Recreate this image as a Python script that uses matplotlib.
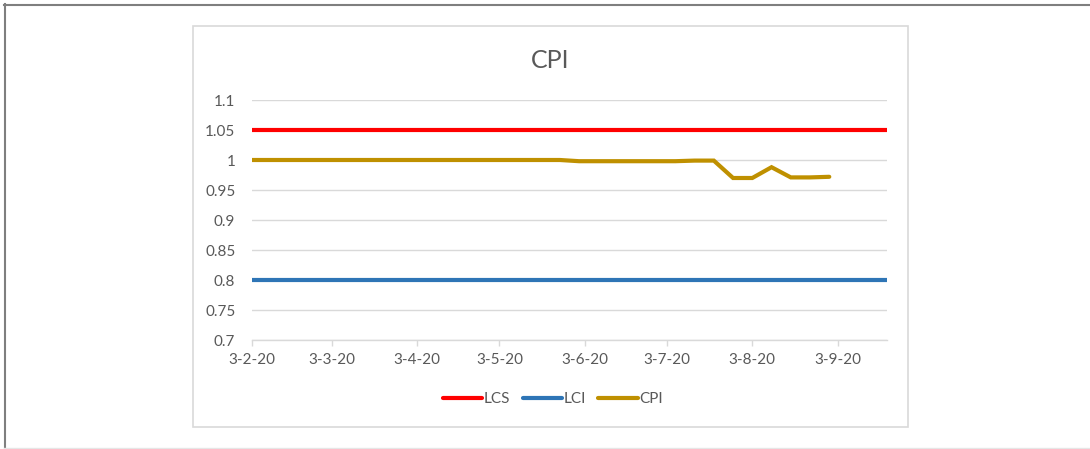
import pandas as pd
import matplotlib
matplotlib.use('Agg')
import matplotlib.pyplot as plt
from matplotlib.patches import Rectangle
from matplotlib.lines import Line2D

plt.rcParams['font.family'] = ['Lato', 'DejaVu Sans']

# weekly dates (day-month style labels in the original)
dates = pd.to_datetime([
    '2020-02-03', '2020-02-10', '2020-02-17', '2020-02-24', '2020-03-02', '2020-03-09',
    '2020-03-16', '2020-03-23', '2020-03-30', '2020-04-06', '2020-04-13', '2020-04-20',
    '2020-04-27', '2020-05-04', '2020-05-11', '2020-05-18', '2020-05-25', '2020-06-01',
    '2020-06-08', '2020-06-15', '2020-06-22', '2020-06-29', '2020-07-06', '2020-07-13',
    '2020-07-20', '2020-07-27', '2020-08-03', '2020-08-10', '2020-08-17', '2020-08-24',
    '2020-08-31', '2020-09-07', '2020-09-14', '2020-09-21'])

lcs = [1.05, 1.05, 1.05, 1.05, 1.05, 1.05, 1.05, 1.05, 1.05, 1.05, 1.05, 1.05,
       1.05, 1.05, 1.05, 1.05, 1.05, 1.05, 1.05, 1.05, 1.05, 1.05, 1.05, 1.05,
       1.05, 1.05, 1.05, 1.05, 1.05, 1.05, 1.05, 1.05, 1.05, 1.05]
lci = [0.8, 0.8, 0.8, 0.8, 0.8, 0.8, 0.8, 0.8, 0.8, 0.8, 0.8, 0.8,
       0.8, 0.8, 0.8, 0.8, 0.8, 0.8, 0.8, 0.8, 0.8, 0.8, 0.8, 0.8,
       0.8, 0.8, 0.8, 0.8, 0.8, 0.8, 0.8, 0.8, 0.8, 0.8]
cpi = [1.0, 1.0, 1.0, 1.0, 1.0, 1.0, 1.0, 1.0, 1.0, 1.0, 1.0, 1.0,
       1.0, 1.0, 1.0, 1.0, 1.0, 0.998, 0.998, 0.998, 0.998, 0.998, 0.998, 0.999,
       0.999, 0.970, 0.970, 0.988, 0.971, 0.971, 0.972]

tick_dates = pd.to_datetime(['2020-02-03', '2020-03-03', '2020-04-03', '2020-05-03',
                             '2020-06-03', '2020-07-03', '2020-08-03', '2020-09-03'])
tick_labels = ['3-2-20', '3-3-20', '3-4-20', '3-5-20', '3-6-20', '3-7-20', '3-8-20', '3-9-20']
y_ticks = [0.7, 0.75, 0.8, 0.85, 0.9, 0.95, 1.0, 1.05, 1.1]
y_labels = ['0.7', '0.75', '0.8', '0.85', '0.9', '0.95', '1', '1.05', '1.1']

text_color = '#595959'
grid_color = '#d9d9d9'

fig = plt.figure(figsize=(10.9, 4.49), dpi=100)
ax = fig.add_axes([252 / 1090, 1 - 340 / 449, 635 / 1090, 240 / 449])

lw = 3
ax.plot(dates, lcs, color='#ff0000', lw=lw, solid_capstyle='round', label='LCS', zorder=3)
ax.plot(dates, lci, color='#2e75b6', lw=lw, solid_capstyle='round', label='LCI', zorder=3)
ax.plot(dates[:len(cpi)], cpi, color='#bf9000', lw=lw, solid_capstyle='round',
        solid_joinstyle='miter', label='CPI', zorder=3)

ax.set_xlim(dates[0], dates[-1])
ax.set_ylim(0.7, 1.1)
ax.set_yticks(y_ticks)
ax.set_yticklabels(y_labels)
ax.set_xticks(tick_dates)
ax.set_xticklabels(tick_labels)
ax.yaxis.grid(True, color=grid_color, lw=1)
ax.set_axisbelow(True)
for s in ['top', 'right', 'left']:
    ax.spines[s].set_visible(False)
ax.spines['bottom'].set_color(grid_color)
ax.spines['bottom'].set_linewidth(1)
ax.tick_params(axis='y', length=0, pad=12, labelsize=11, labelcolor=text_color)
ax.tick_params(axis='x', length=4, width=1, color=grid_color, pad=5.5, labelsize=11,
               labelcolor=text_color)

fig.text(550 / 1090, 1 - 60 / 449, 'CPI', ha='center', va='center', fontsize=18,
         color=text_color)

leg = fig.legend(loc='center', bbox_to_anchor=(553 / 1090, 1 - 399 / 449), ncol=3,
                 frameon=False, handlelength=2.6, handletextpad=0.1, columnspacing=0.8,
                 fontsize=11)
for t in leg.get_texts():
    t.set_color(text_color)

# chart area box and outer frame
fig.add_artist(Rectangle((193 / 1090, 1 - 427 / 449), 715 / 1090, 401 / 449,
                         transform=fig.transFigure, fill=False, ec=grid_color, lw=1.2))
fig.add_artist(Line2D([4.5 / 1090, 4.5 / 1090], [0, 1 - 4 / 449],
                      transform=fig.transFigure, color='#7f7f7f', lw=1.5))
fig.add_artist(Line2D([4 / 1090, 1], [1 - 4.5 / 449, 1 - 4.5 / 449],
                      transform=fig.transFigure, color='#7f7f7f', lw=1.5))
fig.add_artist(Line2D([4 / 1090, 1], [1.5 / 449, 1.5 / 449],
                      transform=fig.transFigure, color='#e6e6e6', lw=1))

plt.savefig('out.png', dpi=100)
